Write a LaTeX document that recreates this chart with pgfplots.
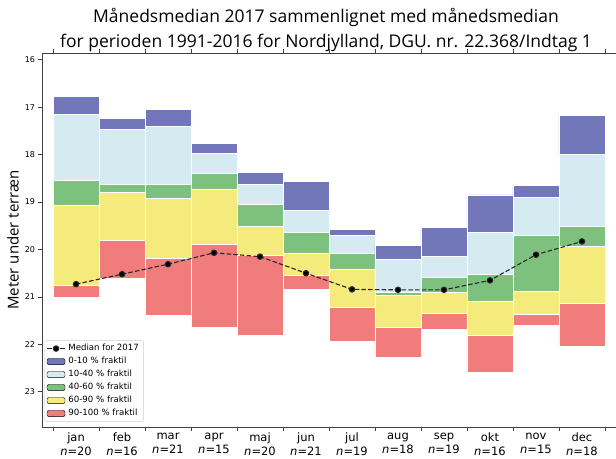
\documentclass[border=0pt]{standalone}
\usepackage{pgfplots}
\pgfplotsset{compat=1.18}
\usepackage{pgfplotstable}
\usepackage{fontspec}
\setmainfont{DejaVu Sans}
\newfontfamily\titlefont{Open Sans}
\definecolor{cA}{RGB}{114,119,185}
\definecolor{cB}{RGB}{213,235,241}
\definecolor{cC}{RGB}{126,193,127}
\definecolor{cD}{RGB}{244,235,124}
\definecolor{cE}{RGB}{240,124,124}
\pgfplotstableread{
x    top   b1    b2    b3    b4    bot   med
0.5  16.77 17.15 18.55 19.06 20.75 21.01 20.73
1.5  17.24 17.46 18.63 18.80 19.81 20.61 20.52
2.5  17.05 17.40 18.63 18.92 20.19 21.39 20.31
3.5  17.76 17.97 18.40 18.73 19.89 21.63 20.07
4.5  18.38 18.63 19.05 19.51 20.12 21.81 20.15
5.5  18.57 19.17 19.63 20.08 20.55 20.84 20.50
6.5  19.58 19.69 20.08 20.42 21.22 21.93 20.84
7.5  19.92 20.21 20.90 20.97 21.63 22.27 20.85
8.5  19.53 20.15 20.59 20.90 21.34 21.69 20.85
9.5  18.85 19.64 20.52 21.08 21.80 22.59 20.65
10.5 18.65 18.90 19.69 20.87 21.36 21.60 20.11
11.5 17.17 18.00 19.51 19.94 21.13 22.03 19.83
}\data
\pgfplotsset{
  common/.style={
    scale only axis, width=574pt, height=374pt,
    xmin=-0.24, xmax=12.24, ymin=15.86, ymax=23.74, y dir=reverse,
  },
  patchlegend/.style={legend image code/.code={\fill[##1] (0pt,-3.1pt) rectangle (18pt,3.1pt);}},
  linelegend/.style={legend image code/.code={\draw[mark repeat=2,mark phase=2,##1] plot coordinates {(0pt,0pt) (9pt,0pt) (18pt,0pt)};}},
}
\begin{document}
\begin{tikzpicture}
\begin{axis}[common,
  ybar stacked, bar width=1,
  axis line style={black!75, line width=0.8pt},
  xtick={0.5,1.5,...,11.5},
  xticklabels={{jan\\\textit{n}=20},{feb\\\textit{n}=16},{mar\\\textit{n}=21},{apr\\\textit{n}=15},{maj\\\textit{n}=20},{jun\\\textit{n}=21},{jul\\\textit{n}=19},{aug\\\textit{n}=18},{sep\\\textit{n}=19},{okt\\\textit{n}=16},{nov\\\textit{n}=15},{dec\\\textit{n}=18}},
  minor xtick={0,1,...,12},
  ytick={16,17,...,23},
  tick align=outside,
  major tick length=3.5pt, minor tick length=3.5pt,
  major x tick style={draw=none},
  minor x tick style={black!75, line width=0.8pt},
  major y tick style={black!75, line width=0.8pt},
  xticklabel style={font=\fontsize{11.5}{14}\selectfont, align=center, inner sep=0pt, yshift=-2pt},
  yticklabel style={font=\fontsize{8}{9}\selectfont},
  /pgf/number format/assume math mode=true,
]
\addplot[fill=none, draw=none, forget plot] table[x=x, y=top] {\data};
\addplot[fill=cA, draw=white, line width=0.5pt] table[x=x, y expr=\thisrow{b1}-\thisrow{top}] {\data};
\addplot[fill=cB, draw=white, line width=0.5pt] table[x=x, y expr=\thisrow{b2}-\thisrow{b1}] {\data};
\addplot[fill=cC, draw=white, line width=0.5pt] table[x=x, y expr=\thisrow{b3}-\thisrow{b2}] {\data};
\addplot[fill=cD, draw=white, line width=0.5pt] table[x=x, y expr=\thisrow{b4}-\thisrow{b3}] {\data};
\addplot[fill=cE, draw=white, line width=0.5pt] table[x=x, y expr=\thisrow{bot}-\thisrow{b4}] {\data};
\end{axis}
\begin{axis}[common, hide axis,
  legend cell align=left,
  legend style={at={(0.004,0.014)}, anchor=south west, font=\fontsize{8.6}{10}\selectfont,
    draw=black!20, rounded corners=2pt, inner xsep=2pt, inner ysep=1.5pt,
    row sep=0pt,
    nodes={text height=6.4pt, text depth=1.9pt, inner ysep=2.35pt, inner xsep=2.8pt}},
]
\addplot[black!85, dashed, dash pattern=on 4.5pt off 2.2pt, line width=1.1pt, mark=*, mark size=2.7pt,
  mark options={solid, fill=black}, linelegend]
  table[x=x, y=med] {\data};
\addlegendentry{Median for 2017}
\addlegendimage{fill=cA, patchlegend}
\addlegendentry{0-10 \% fraktil}
\addlegendimage{fill=cB, patchlegend}
\addlegendentry{10-40 \% fraktil}
\addlegendimage{fill=cC, patchlegend}
\addlegendentry{40-60 \% fraktil}
\addlegendimage{fill=cD, patchlegend}
\addlegendentry{60-90 \% fraktil}
\addlegendimage{fill=cE, patchlegend}
\addlegendentry{90-100 \% fraktil}
\end{axis}
\node[font=\titlefont\fontsize{17.5}{25}\selectfont, align=center] at (284pt,397pt)
  {Månedsmedian 2017 sammenlignet med månedsmedian\\for perioden 1991-2016 for Nordjylland, DGU. nr. 22.368/Indtag 1};
\node[font=\titlefont\fontsize{15}{17}\selectfont, rotate=90] at (-29pt,187pt) {Meter under terræn};
\pgfresetboundingbox
\path[use as bounding box] (-42pt,-31pt) rectangle (574pt,427pt);
\end{tikzpicture}
\end{document}
